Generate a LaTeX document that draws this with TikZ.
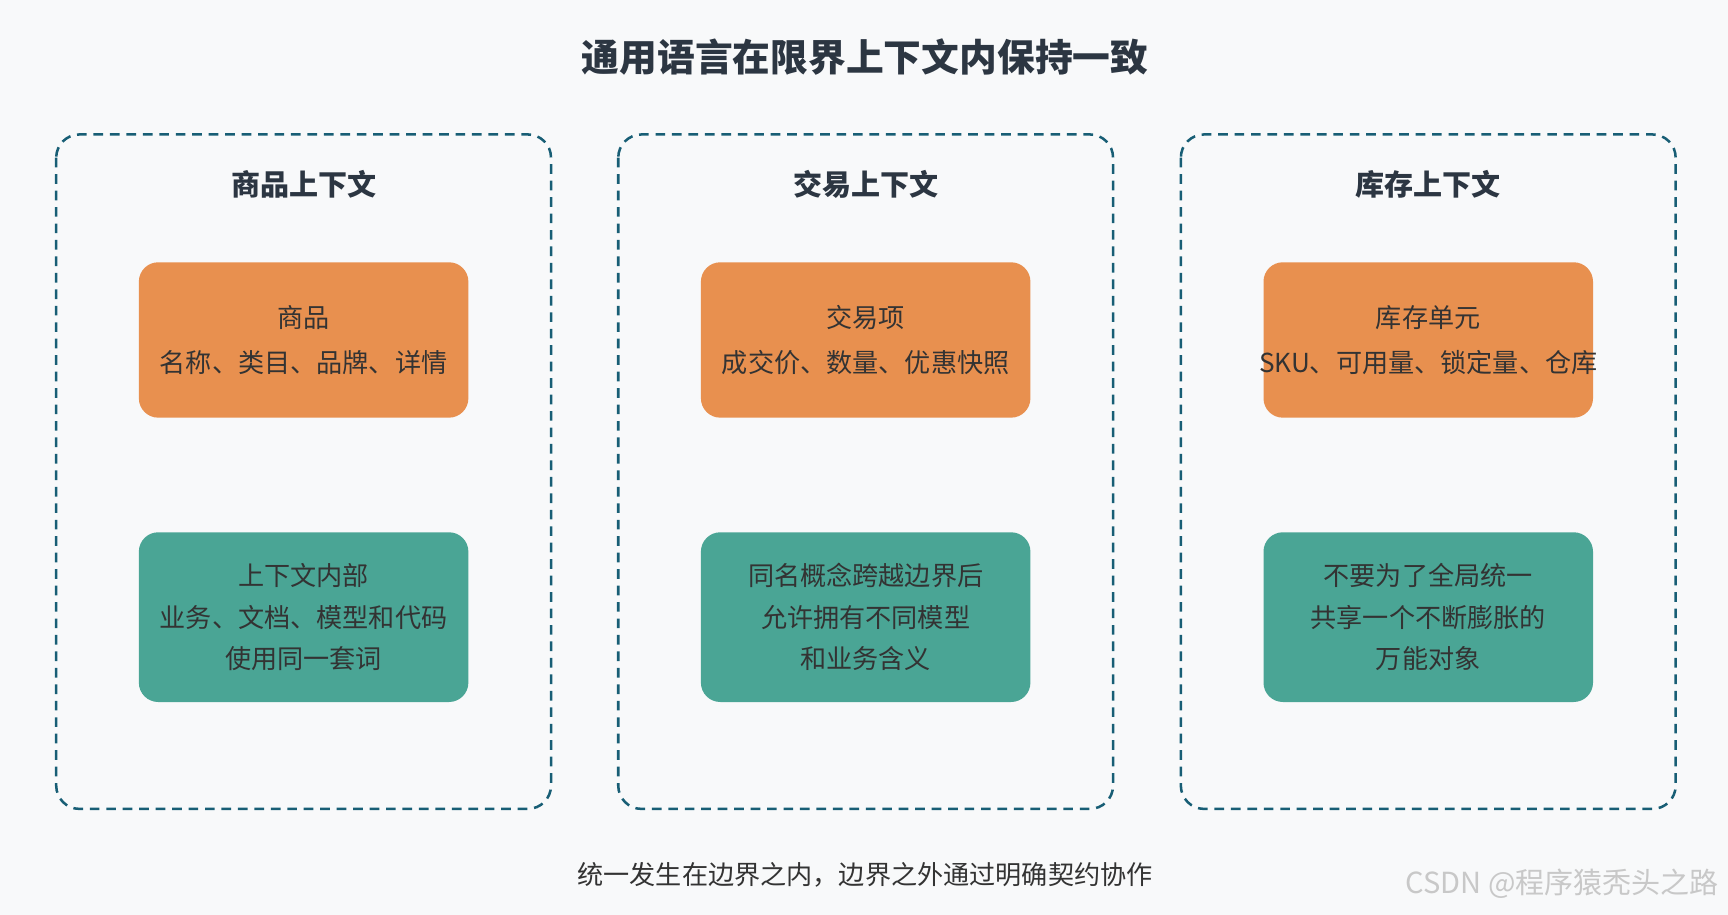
\documentclass[tikz,border=0pt]{standalone}
\usepackage{fontspec}
\setmainfont{Noto Sans CJK SC}
\definecolor{bg}{RGB}{248,249,250}
\definecolor{dsh}{RGB}{24,94,117}
\definecolor{hdc}{RGB}{44,54,66}
\definecolor{orng}{RGB}{232,144,79}
\definecolor{tl}{RGB}{74,165,149}
\definecolor{txt}{RGB}{51,51,51}
\definecolor{wmc}{RGB}{200,200,200}
\begin{document}
\begin{tikzpicture}[x=0.02cm,y=-0.02cm,
  ctx/.style={draw=dsh,dash pattern=on 5pt off 3.5pt,line width=1.3pt,rounded corners=12pt},
  hd/.style={font=\fontsize{15}{17}\selectfont\bfseries,text=hdc},
  ob/.style={fill=orng,rounded corners=10pt,minimum width=299*0.02cm,minimum height=141*0.02cm,align=center,font=\fontsize{13.5}{23}\selectfont,text=txt},
  tb/.style={fill=tl,rounded corners=10pt,minimum width=299*0.02cm,minimum height=154*0.02cm,align=center,font=\fontsize{13.5}{21.5}\selectfont,text=txt}]
\fill[bg] (0,0) rectangle (1568,830);
\useasboundingbox (0,0) rectangle (1568,830);
\node[font=\fontsize{19.5}{21}\selectfont\bfseries,text=hdc] (title) at (785,52) {通用语言在限界上下文内保持一致};
\foreach \i/\x/\h/\o/\t in {a/275.5/商品上下文/{商品\\名称、类目、品牌、详情}/{上下文内部\\业务、文档、模型和代码\\使用同一套词},
  b/785.5/交易上下文/{交易项\\成交价、数量、优惠快照}/{同名概念跨越边界后\\允许拥有不同模型\\和业务含义},
  c/1296/库存上下文/{库存单元\\\makebox[0pt]{SKU、可用量、锁定量、仓库}}/{不要为了全局统一\\共享一个不断膨胀的\\万能对象}}{
  \draw[ctx] (\x-224.5,122) rectangle (\x+224.5,734);
  \node[hd] (h\i) at (\x,167) {\h};
  \node[ob] (o\i) at (\x,308.5) {\o};
  \node[tb] (t\i) at (\x,560) {\t};
}
\node[font=\fontsize{13.5}{15}\selectfont,text=txt] (foot) at (785,794) {统一发生在边界之内，边界之外通过明确契约协作};
\node[font=\fontsize{15}{17}\selectfont,text=wmc,anchor=east] (wm) at (1566,802) {CSDN @程序猿秃头之路};
\end{tikzpicture}
\end{document}
